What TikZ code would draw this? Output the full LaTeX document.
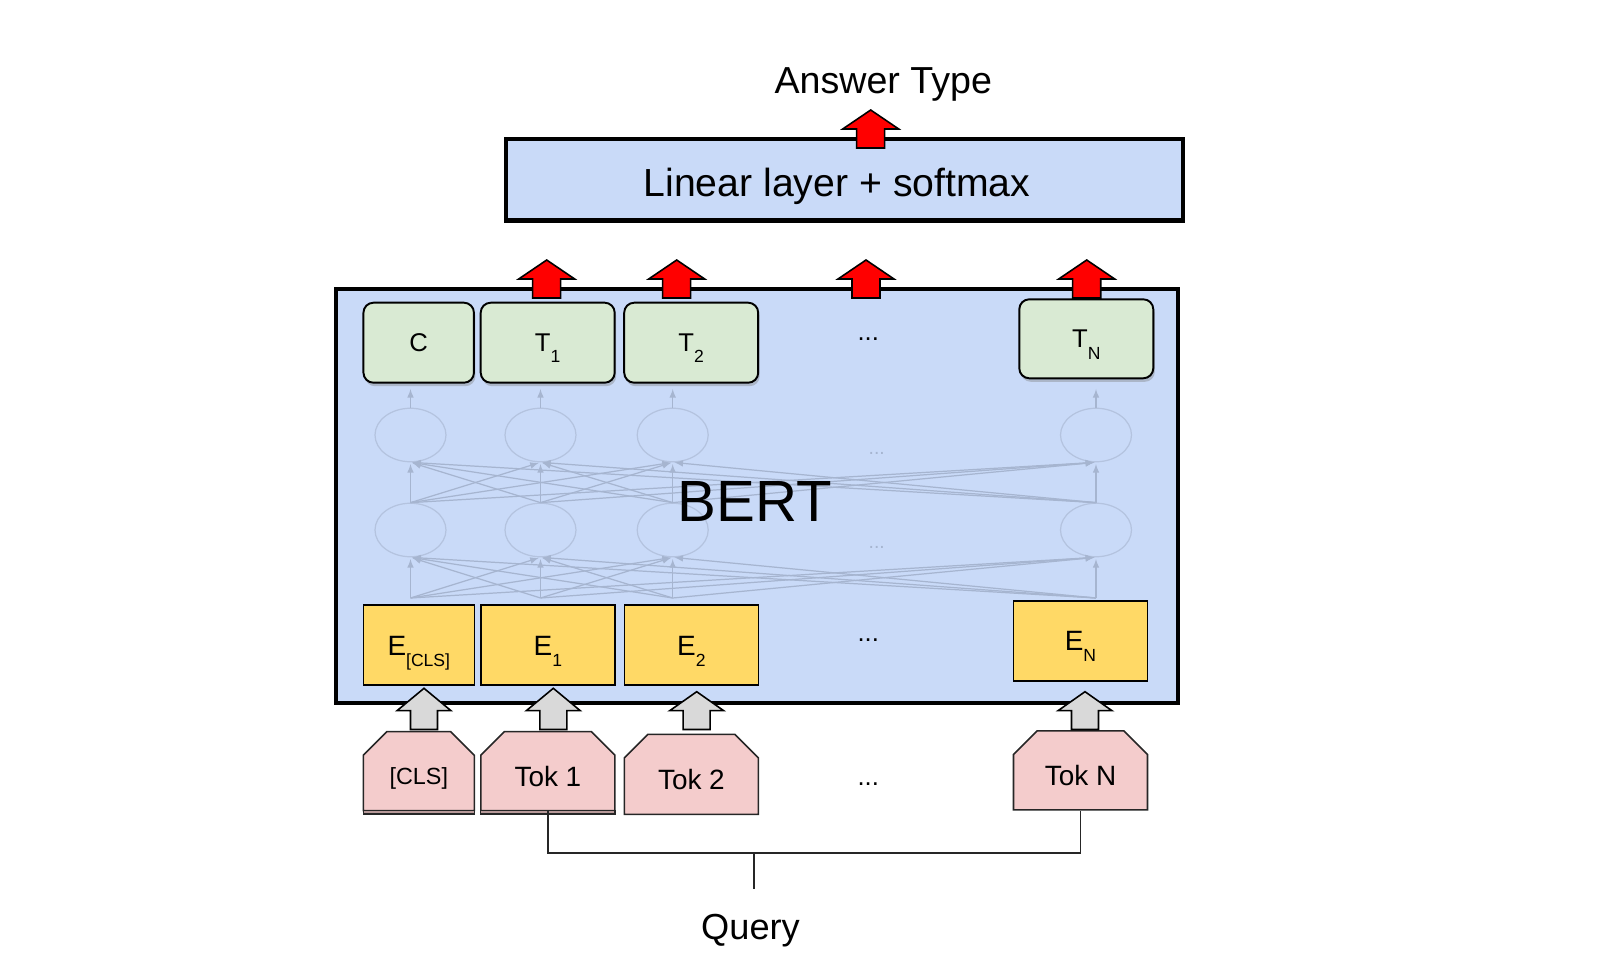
\documentclass[tikz,border=0pt]{standalone}
\usepackage{fontspec}
\setmainfont{Liberation Sans}
\usetikzlibrary{arrows,shapes.misc,shapes.geometric,shadows}

\definecolor{bertblue}{HTML}{C9DAF8}
\definecolor{outgreen}{HTML}{D9EAD3}
\definecolor{embyellow}{HTML}{FFD966}
\definecolor{tokpink}{HTML}{F4CCCC}
\definecolor{arrowgray}{HTML}{D9D9D9}
\definecolor{netgray}{RGB}{166,181,208}
\definecolor{netring}{RGB}{180,195,223}

\newcommand{\lowsub}[1]{\raisebox{-6.3pt}{\fontsize{10}{12}\selectfont #1}}

\begin{document}
\begin{tikzpicture}[x=0.2mm, y=-0.2mm,
	outbox/.style={draw, line width=1.1pt, fill=outgreen, rounded corners=2mm, minimum width=26.8mm, minimum height=16mm, inner sep=0pt, text height=10.4pt, text depth=0pt, font=\fontsize{14.6}{17}\selectfont, drop shadow={shadow xshift=0.3mm, shadow yshift=-0.7mm, opacity=0.4}},
	embbox/.style={draw, line width=0.9pt, fill=embyellow, minimum width=26.8mm, minimum height=16mm, inner sep=0pt, text height=11.4pt, text depth=0pt, font=\fontsize{15.9}{19}\selectfont},
	tokbox/.style={chamfered rectangle, chamfered rectangle corners={north west,north east}, chamfered rectangle xsep=2.3mm, chamfered rectangle ysep=2.4mm, draw=black!85, line width=0.9pt, fill=tokpink, minimum width=26.8mm, minimum height=15.8mm, inner sep=0pt, text height=17.1pt, text depth=0pt, font=\fontsize{15.9}{19}\selectfont},
	neuron/.style={ellipse, draw=netring, line width=0.7pt, minimum width=14.2mm, minimum height=10.7mm, inner sep=0pt},
	netline/.style={draw=netgray, line width=0.7pt},
	redarrow/.style={draw=black, line width=0.9pt, fill=red},
	grayarrow/.style={draw=black, line width=0.9pt, fill=arrowgray}]
	\useasboundingbox (0,0) rectangle (1602,980);

	% boxes
	\node [draw, line width=2.45pt, fill=bertblue, minimum width=135.4mm, minimum height=16.3mm, inner sep=0pt] (linear) at (844.75,179.65) {};
	\node [draw, line width=2.3pt, fill=bertblue, minimum width=168.5mm, minimum height=82.9mm, inner sep=0pt] (bert) at (757,496) {};

	% hidden layers
	\foreach \i/\x in {1/410.5, 2/540.5, 3/672.7, 4/1096} {
		\node [neuron] (up\i) at (\x,435) {};
		\node [neuron] (lo\i) at (\x,530) {};
		\coordinate (in\i) at (\x,598);
		\coordinate (top\i) at (\x,389);
	}
	\foreach \i in {1,...,4} {
		\draw [netline,-latex] (up\i.north) -- (top\i);
		\foreach \j in {1,...,4} {
			\draw [netline,-latex,shorten >=1pt] (in\i) -- (lo\j.south);
			\draw [netline,-latex,shorten >=1pt] (lo\i.north) -- (up\j.south);
		}
	}
	\node [text=netgray, font=\fontsize{11}{13}\selectfont] (netdotsa) at (876.7,453) {...};
	\node [text=netgray, font=\fontsize{11}{13}\selectfont] (netdotsb) at (876.7,547) {...};
	\node [anchor=base, font=\fontsize{33.1}{38}\selectfont] (berttxt) at (754.5,521.7) {BERT};

	% outputs
	\node [outbox, minimum width=22.1mm] (tc) at (418.7,342.7) {C};
	\node [outbox] (t1) at (547.7,342.7) {T\lowsub{1}};
	\node [outbox] (t2) at (691.2,342.7) {T\lowsub{2}};
	\node [outbox, minimum height=15.8mm] (tn) at (1086.3,338.8) {T\lowsub{N}};
	\node [font=\fontsize{14.6}{17}\selectfont] (tdots) at (868.3,339) {...};

	% embeddings
	\node [embbox, minimum width=22.2mm] (ecls) at (418.8,645) {E\lowsub{[CLS]}};
	\node [embbox] (e1) at (547.9,645) {E\lowsub{1}};
	\node [embbox] (e2) at (691.4,645) {E\lowsub{2}};
	\node [embbox] (en) at (1080.5,640.9) {E\lowsub{N}};
	\node [font=\fontsize{14.6}{17}\selectfont] (edots) at (868.3,640) {...};

	% tokens
	\node [tokbox, minimum width=22.2mm, font=\fontsize{13.3}{16}\selectfont, text height=15.2pt] (tokcls) at (418.8,771.2) {[CLS]};
	\node [tokbox] (tok1) at (547.9,771.2) {Tok 1};
	\node [tokbox, minimum height=16mm] (tok2) at (691.4,774.3) {Tok 2};
	\node [tokbox] (tokn) at (1080.5,770.4) {Tok N};
	\node [font=\fontsize{14.6}{17}\selectfont] (tokdots) at (868.3,784) {...};
	\draw [fill=tokpink!75!black, draw=black!85, line width=0.6pt] (363.3,810.7) rectangle (474.3,814);
	\draw [fill=tokpink!75!black, draw=black!85, line width=0.6pt] (480.7,810.7) rectangle (615,814);

	% block arrows
	\foreach \cx/\ty in {870.7/110, 546.7/260, 676.7/260, 866/260, 1086.7/260}
		\draw [redarrow] (\cx,\ty) -- (\cx+28,\ty+19) -- (\cx+14,\ty+19) -- (\cx+14,\ty+38) -- (\cx-14,\ty+38) -- (\cx-14,\ty+19) -- (\cx-28,\ty+19) -- cycle;
	\foreach \cx/\ty in {424/688.3, 553.3/688.3, 696.7/691.7, 1085/691.7}
		\draw [grayarrow] (\cx,\ty) -- (\cx+27,710.7) -- (\cx+13.5,710.7) -- (\cx+13.5,729.5) -- (\cx-13.5,729.5) -- (\cx-13.5,710.7) -- (\cx-27,710.7) -- cycle;

	% query bracket
	\coordinate (qjoin) at (753.7,853.3);
	\coordinate (qstem) at (753.7,889);
	\draw [line width=1pt, black!85] (tok1.south) -- (tok1.south |- qjoin) -- (tokn.south |- qjoin) -- (tokn.south);
	\draw [line width=1pt, black!85] (qjoin) -- (qstem);

	% labels
	\node [anchor=base, font=\fontsize{21.4}{25}\selectfont] (anstype) at (883.3,93.3) {Answer Type};
	\node [anchor=base, font=\fontsize{22.3}{26}\selectfont] (lintxt) at (837,196.7) {Linear layer + softmax};
	\node [anchor=base, font=\fontsize{20.6}{24}\selectfont] (query) at (750.5,939.3) {Query};
\end{tikzpicture}
\end{document}
